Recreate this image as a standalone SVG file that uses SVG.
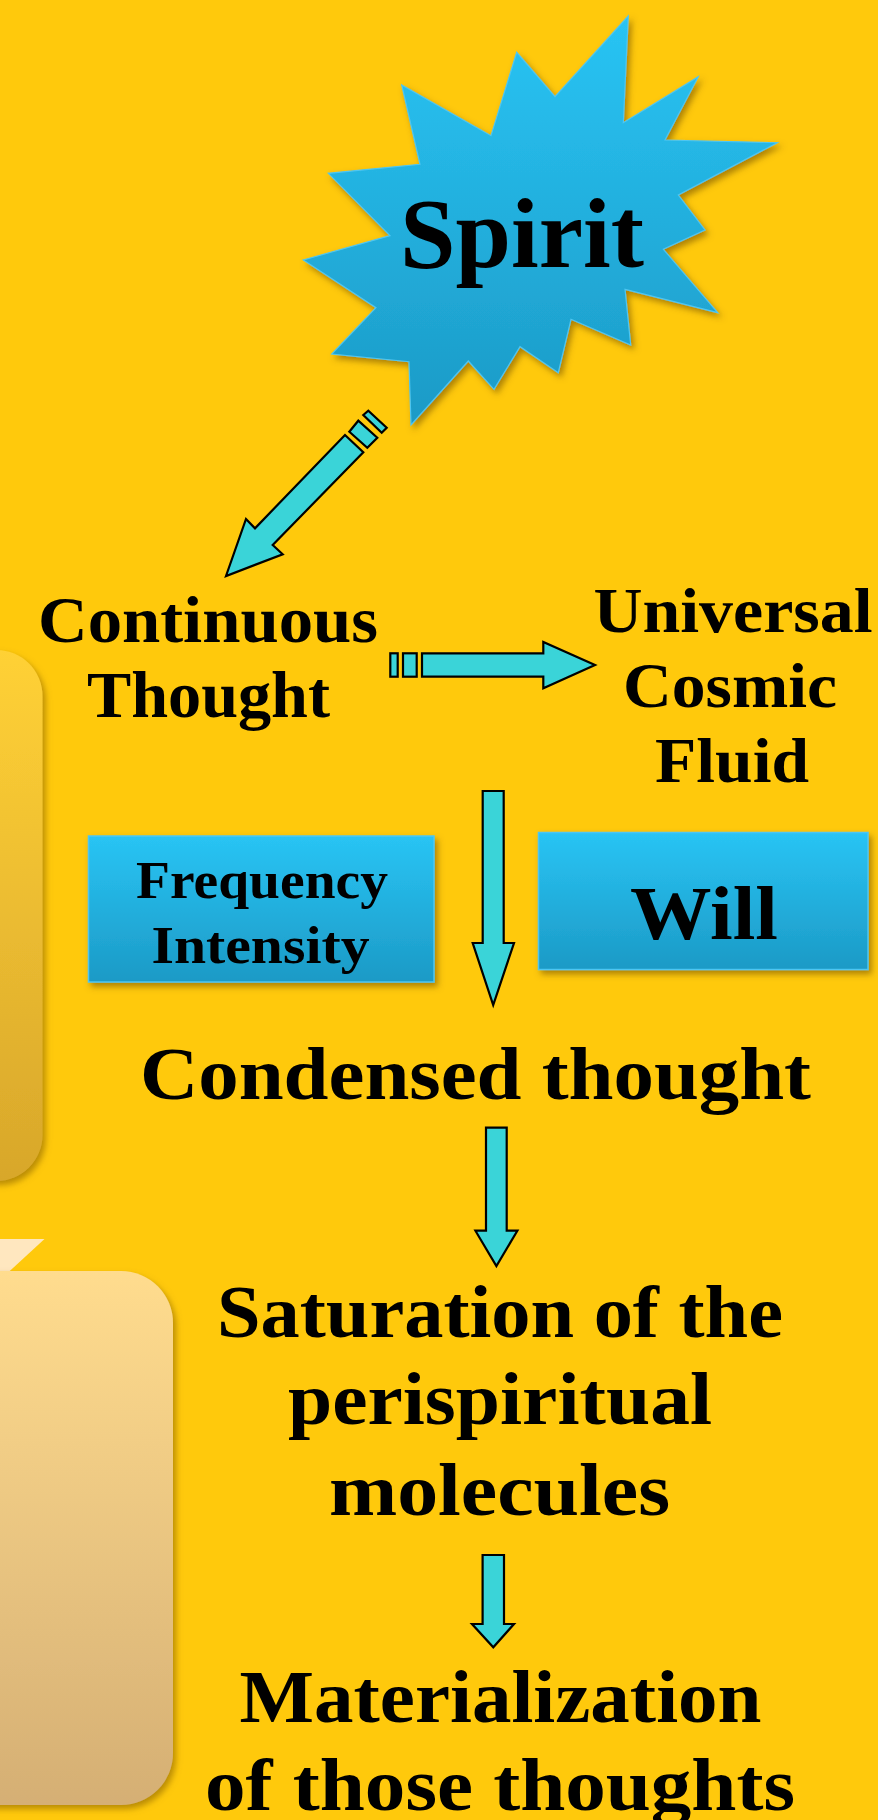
<svg xmlns="http://www.w3.org/2000/svg" width="878" height="1820" viewBox="0 0 878 1820">
<defs>
<linearGradient id="gBlue" x1="0" y1="0" x2="0" y2="1">
<stop offset="0" stop-color="#29C4F4"/>
<stop offset="1" stop-color="#1C9AC6"/>
</linearGradient>
<linearGradient id="gA" x1="0" y1="0" x2="0" y2="1">
<stop offset="0" stop-color="#FFD136"/>
<stop offset="1" stop-color="#D8A72B"/>
</linearGradient>
<linearGradient id="gB" x1="0" y1="0" x2="0" y2="1">
<stop offset="0" stop-color="#FFDC8E"/>
<stop offset="1" stop-color="#D5AF74"/>
</linearGradient>
<filter id="sh" x="-20%" y="-20%" width="140%" height="140%">
<feDropShadow dx="3" dy="4" stdDeviation="3" flood-color="#6b4a00" flood-opacity="0.55"/>
</filter>
<filter id="shL" x="-20%" y="-20%" width="140%" height="140%">
<feDropShadow dx="3" dy="4" stdDeviation="3" flood-color="#8a6400" flood-opacity="0.6"/>
</filter>
</defs>
<style>
.t{font-family:"Liberation Serif","Times New Roman",serif;font-weight:bold;fill:#000;text-anchor:middle}
.arr{fill:#3AD4D8;stroke:#000;stroke-width:2.2;stroke-linejoin:miter}
.box{fill:url(#gBlue);stroke:#4EC6F2;stroke-width:1.5}
</style>
<rect x="0" y="0" width="878" height="1820" fill="#FFC90C"/>

<g id="side-shape-a">
<rect x="-60" y="650" width="102.5" height="531" rx="46" ry="46" fill="url(#gA)" filter="url(#shL)"/>
</g>
<g id="side-shape-b">
<polygon points="0,1239 44.5,1239 0,1280" fill="#FFE7BF"/>
<rect x="-60" y="1271" width="233" height="534" rx="52" ry="52" fill="url(#gB)" filter="url(#shL)"/>
</g>

<g id="spirit">
<polygon filter="url(#sh)" fill="url(#gBlue)" stroke="#4EC6F2" stroke-width="1.2" points="628.3,16 623.3,122.7 698.3,76.7 665,140 777.3,142.7 678.3,195 705,230 663.3,249.3 717.7,312.7 625,289.3 630.7,345 571,319.3 558.3,372.7 520,346.7 494,389.3 468.3,361 411,425 409,361.7 331.7,354 376,307.7 303.3,260 390,235.7 328.3,173.3 420,164.3 401.7,85 491,135.7 516.7,52.3 555,96.7"/>
<text class="t" x="522" y="267" font-size="100" textLength="244" lengthAdjust="spacingAndGlyphs">Spirit</text>
</g>

<g id="continuous-thought">
<text class="t" x="208" y="642" font-size="65" textLength="340" lengthAdjust="spacingAndGlyphs">Continuous</text>
<text class="t" x="208.5" y="717" font-size="65" textLength="243" lengthAdjust="spacingAndGlyphs">Thought</text>
</g>

<g id="universal-cosmic-fluid">
<text class="t" x="733" y="632" font-size="64" textLength="279" lengthAdjust="spacingAndGlyphs">Universal</text>
<text class="t" x="730" y="707" font-size="64" textLength="214" lengthAdjust="spacingAndGlyphs">Cosmic</text>
<text class="t" x="732" y="782" font-size="64" textLength="154" lengthAdjust="spacingAndGlyphs">Fluid</text>
</g>

<g id="frequency-intensity">
<rect class="box" x="88.5" y="836" width="345.5" height="146" filter="url(#sh)"/>
<text class="t" x="262" y="898" font-size="53" textLength="252" lengthAdjust="spacingAndGlyphs">Frequency</text>
<text class="t" x="260.5" y="963" font-size="53" textLength="218" lengthAdjust="spacingAndGlyphs">Intensity</text>
</g>

<g id="will">
<rect class="box" x="538.5" y="832.5" width="329.5" height="137" filter="url(#sh)"/>
<text class="t" x="704" y="939" font-size="77" textLength="148" lengthAdjust="spacingAndGlyphs">Will</text>
</g>

<g id="condensed-thought">
<text class="t" x="475.5" y="1099" font-size="74" textLength="671" lengthAdjust="spacingAndGlyphs">Condensed thought</text>
</g>

<g id="saturation">
<text class="t" x="500" y="1337" font-size="75" textLength="566" lengthAdjust="spacingAndGlyphs">Saturation of the</text>
<text class="t" x="500" y="1424" font-size="75" textLength="424" lengthAdjust="spacingAndGlyphs">perispiritual</text>
<text class="t" x="499.5" y="1515" font-size="75" textLength="341" lengthAdjust="spacingAndGlyphs">molecules</text>
</g>

<g id="materialization">
<text class="t" x="500.5" y="1721.5" font-size="75" textLength="522" lengthAdjust="spacingAndGlyphs">Materialization</text>
<text class="t" x="500" y="1809.5" font-size="75" textLength="590" lengthAdjust="spacingAndGlyphs">of those thoughts</text>
</g>

<g id="connectors">
<g id="arrow-spirit-thought">
<polygon class="arr" points="363.3,415 368.3,410.7 386.7,427.7 381.7,432.7"/>
<polygon class="arr" points="349.3,431.7 358.3,420.7 377.3,437.7 367.3,447.7"/>
<polygon class="arr" points="226,576 246,519 255,528.3 345,435 363.3,452.3 272.7,545 282.7,554.3"/>
</g>
<g id="arrow-thought-fluid">
<rect class="arr" x="390.3" y="653.3" width="7.4" height="23.4"/>
<rect class="arr" x="403" y="653.3" width="13.7" height="23.4"/>
<polygon class="arr" points="422,653.3 543.3,653.3 543.3,642 595,665 543.3,688.3 543.3,676.7 422,676.7"/>
</g>
<polygon id="arrow-fluid-condensed" class="arr" points="482.7,791 503.7,791 503.7,943 514,943 493.2,1005 472.7,943 482.7,943"/>
<polygon id="arrow-condensed-saturation" class="arr" points="486,1127.7 506.7,1127.7 506.7,1230.7 517.4,1230.7 496.4,1266 475.4,1230.7 486,1230.7"/>
<polygon id="arrow-saturation-materialization" class="arr" points="482.6,1555 504,1555 504,1624 514,1624 493.3,1647.3 472,1624 482.6,1624"/>
</g>
</svg>
